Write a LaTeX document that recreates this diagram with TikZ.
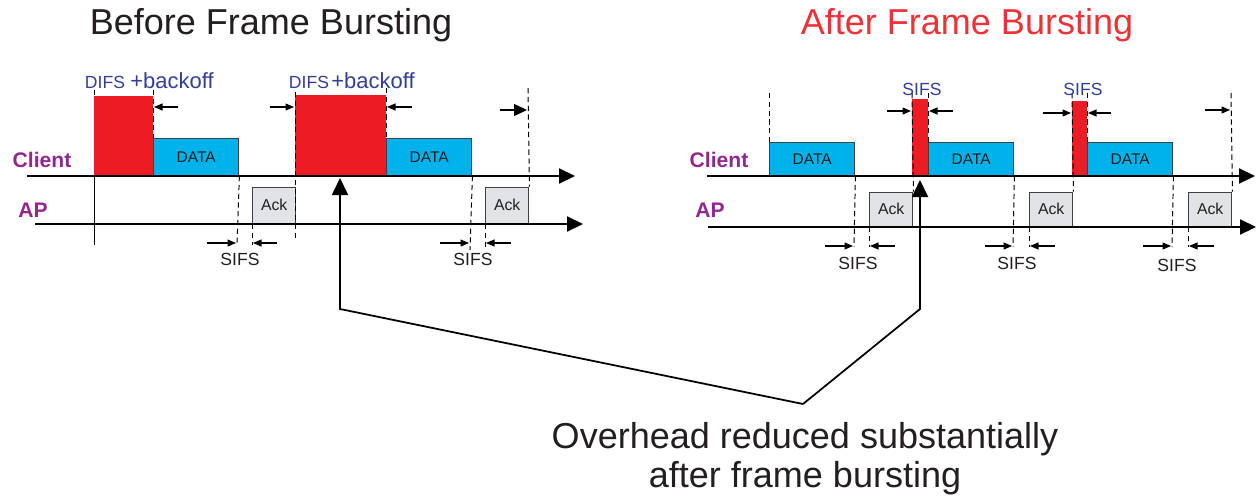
\documentclass[tikz,border=0pt]{standalone}
\usepackage{fontspec}
\setmainfont{Liberation Sans}
\usetikzlibrary{arrows.meta}

\definecolor{burstred}{RGB}{237,28,36}
\definecolor{datacyan}{RGB}{0,178,236}
\definecolor{ackgray}{RGB}{226,227,231}
\definecolor{whopurple}{RGB}{146,39,143}
\definecolor{difsblue}{RGB}{52,62,150}
\definecolor{titlered}{RGB}{237,50,55}
\definecolor{inkgray}{RGB}{35,31,32}

\tikzset{
  axis/.style={line width=1.2pt, -{Triangle[length=0.32cm,width=0.3cm]}},
  frame/.style={draw=black!75, line width=0.8pt, inner sep=0pt, anchor=south west},
  databox/.style={frame, fill=datacyan, minimum width=1.7cm, text=inkgray,
    font=\fontsize{8.8}{10}\selectfont},
  ackbox/.style={frame, fill=ackgray, minimum width=0.86cm, text=inkgray,
    font=\fontsize{9}{10}\selectfont},
  burst/.style={fill=burstred, inner sep=0pt, anchor=south west},
  guide/.style={densely dashed, line width=0.55pt},
  gap/.style={line width=0.6pt, -{Triangle[length=0.17cm,width=0.14cm]}},
  biggap/.style={line width=0.6pt, -{Triangle[length=0.26cm,width=0.24cm]}},
  lead/.style={line width=1pt, -{Triangle[length=0.34cm,width=0.32cm]}},
  who/.style={font=\fontsize{12}{14}\selectfont\bfseries, text=whopurple},
  sifs/.style={font=\fontsize{10}{12}\selectfont, text=inkgray},
  difs/.style={font=\fontsize{10}{12}\selectfont, text=difsblue, inner sep=0pt},
  backoff/.style={font=\fontsize{12.5}{14}\selectfont, text=difsblue, inner sep=0pt},
  heading/.style={font=\fontsize{20.5}{22}\selectfont}
}

\begin{document}
\begin{tikzpicture}[x=0.02cm, y=-0.02cm]
  \useasboundingbox (0,0) rectangle (1256,497);

  % titles
  \node[heading, text=inkgray] (before) at (271,25) {Before Frame Bursting};
  \node[heading, text=titlered] (after) at (967,25) {After Frame Bursting};

  % ---- before bursting ----
  \node[burst, minimum width=1.18cm, minimum height=1.6cm] (rl1) at (94,176) {};
  \node[databox, minimum height=0.74cm] (dl1) at (153,176) {DATA};
  \node[ackbox, minimum height=0.72cm] (al1) at (252,224) {Ack};
  \node[burst, minimum width=1.82cm, minimum height=1.62cm] (rl2) at (295,176) {};
  \node[databox, minimum height=0.74cm] (dl2) at (386,176) {DATA};
  \node[ackbox, minimum height=0.72cm] (al2) at (485,224) {Ack};

  \node[who] (clientl) at (42,160) {Client};
  \node[who] (apl) at (33,210) {AP};
  \draw[axis] (27,176) -- (575,176);
  \draw[axis] (35,224) -- (583,224);

  \draw (rl1.south west) -- (94,245);
  \draw[guide] (rl1.north west) -- (94,90);
  \draw[guide] (153,90) -- (dl1.north west);
  \draw[guide] (dl1.south east) -- (237,245);
  \draw[guide] (al1.south west) -- (252,245);
  \draw[guide] (295,92) -- (295,240);
  \draw[guide] (386,88) -- (dl2.north west);
  \draw[guide] (dl2.south east) -- (470,250);
  \draw[guide] (al2.south west) -- (485,250);
  \draw[guide] (528,88) -- (al2.north east);

  \node[difs, anchor=base] (difsa) at (105,88) {DIFS};
  \node[backoff, anchor=base] (backoffa) at (172,88) {+backoff};
  \node[difs, anchor=base] (difsb) at (309,88) {DIFS};
  \node[backoff, anchor=base] (backoffb) at (373,88) {+backoff};

  \draw[gap] (178,107) -- (154,107);
  \draw[gap] (270,107) -- (294,107);
  \draw[gap] (412,107) -- (387,107);
  \draw[biggap] (500,110) -- (527,110);

  \draw[gap] (207,243) -- (236,243);
  \draw[gap] (277,243) -- (253,243);
  \node[sifs] (sifsa) at (240,259) {SIFS};
  \draw[gap] (440,243) -- (469,243);
  \draw[gap] (511,243) -- (486,243);
  \node[sifs] (sifsb) at (473,259) {SIFS};

  % ---- after bursting ----
  \node[databox, minimum height=0.66cm] (dr1) at (769,176) {DATA};
  \node[ackbox, minimum height=0.68cm] (ar1) at (869,227) {Ack};
  \node[burst, minimum width=0.32cm, minimum height=1.54cm] (rr1) at (912,176) {};
  \node[databox, minimum height=0.66cm] (dr2) at (928,176) {DATA};
  \node[ackbox, minimum height=0.68cm] (ar2) at (1029,227) {Ack};
  \node[burst, minimum width=0.3cm, minimum height=1.5cm] (rr2) at (1072,176) {};
  \node[databox, minimum height=0.66cm] (dr3) at (1087,176) {DATA};
  \node[ackbox, minimum height=0.68cm] (ar3) at (1188,227) {Ack};

  \node[who] (clientr) at (719,160) {Client};
  \node[who] (apr) at (710,210) {AP};
  \draw[axis] (707,176) -- (1255,176);
  \draw[axis] (708,227) -- (1256,227);

  \draw[guide] (769,93) -- (dr1.north west);
  \draw[guide] (dr1.south east) -- (854,247);
  \draw[guide] (ar1.south west) -- (869,247);
  \draw[guide] (912,93) -- (ar1.north east);
  \draw[guide] (928,93) -- (dr2.north west);
  \draw[guide] (dr2.south east) -- (1013,247);
  \draw[guide] (ar2.south west) -- (1029,247);
  \draw[guide] (1072,93) -- (ar2.north east);
  \draw[guide] (1087,93) -- (dr3.north west);
  \draw[guide] (dr3.south east) -- (1172,247);
  \draw[guide] (ar3.south west) -- (1188,247);
  \draw[guide] (1231,93) -- (ar3.north east);

  \node[difs] (sifsc) at (922,89) {SIFS};
  \node[difs] (sifsd) at (1083,89) {SIFS};
  \draw[gap] (887,111) -- (911,111);
  \draw[gap] (953,111) -- (929,111);
  \draw[gap] (1043,113) -- (1071,113);
  \draw[gap] (1111,113) -- (1088,113);
  \draw[gap] (1205,110) -- (1230,110);

  \draw[gap] (825,246) -- (853,246);
  \draw[gap] (895,246) -- (870,246);
  \node[sifs] (sifse) at (858,263) {SIFS};
  \draw[gap] (985,246) -- (1012,246);
  \draw[gap] (1055,246) -- (1030,246);
  \node[sifs] (sifsf) at (1017,263) {SIFS};
  \draw[gap] (1143,246) -- (1171,246);
  \draw[gap] (1214,246) -- (1189,246);
  \node[sifs] (sifsg) at (1177,265) {SIFS};

  % ---- overhead note ----
  \node[heading, text=inkgray, align=center] (over) at (805,459)
    {Overhead reduced substantially\\after frame bursting};
  \coordinate (bend) at (803,404);
  \coordinate (cornerl) at (340,309);
  \coordinate (cornerr) at (920,309);
  \coordinate (tipl) at (340,178);
  \coordinate (tipr) at (920,180);
  \draw[lead] (bend) -- (cornerl) -- (tipl);
  \draw[lead] (bend) -- (cornerr) -- (tipr);
\end{tikzpicture}
\end{document}
